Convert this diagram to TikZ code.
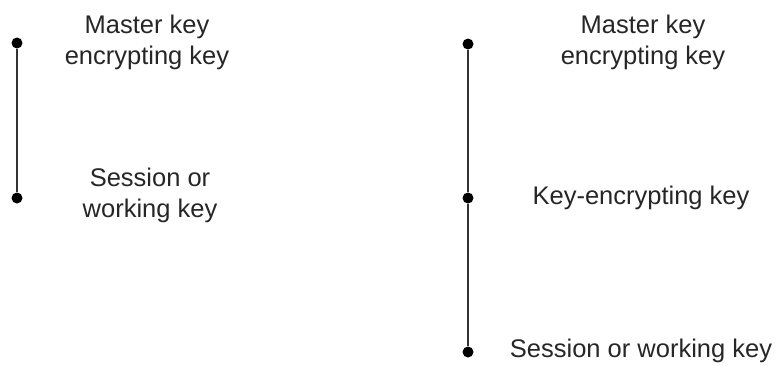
\documentclass[tikz,border=0pt]{standalone}
\usepackage{fontspec}
\setmainfont{Liberation Sans}
\begin{document}
\begin{tikzpicture}[x=1pt,y=-1pt,
  lbl/.style={align=center, text=black!85, font=\fontsize{25.5}{31}\selectfont, inner sep=0pt},
  dotpt/.style={circle, fill=black, inner sep=0pt, minimum size=11pt},
  link/.style={line width=2.2pt, draw=black!80}]
\useasboundingbox (0,0) rectangle (778,365);
% left hierarchy
\node[dotpt] (l1) at (17,43) {};
\node[dotpt] (l2) at (17,198) {};
\draw[link] (l1) -- (l2);
\node[lbl] (lt1) at (147,42) {Master key\\encrypting key};
\node[lbl] (lt2) at (150,195) {Session or\\working key};
% right hierarchy
\node[dotpt] (r1) at (468,44) {};
\node[dotpt] (r2) at (468,198) {};
\node[dotpt] (r3) at (468,352) {};
\draw[link] (r1) -- (r2);
\draw[link] (r2) -- (r3);
\node[lbl] (rt1) at (643,42) {Master key\\encrypting key};
\node[lbl] (rt2) at (641,198) {Key-encrypting key};
\node[lbl] (rt3) at (641,351) {Session or working key};
\end{tikzpicture}
\end{document}
